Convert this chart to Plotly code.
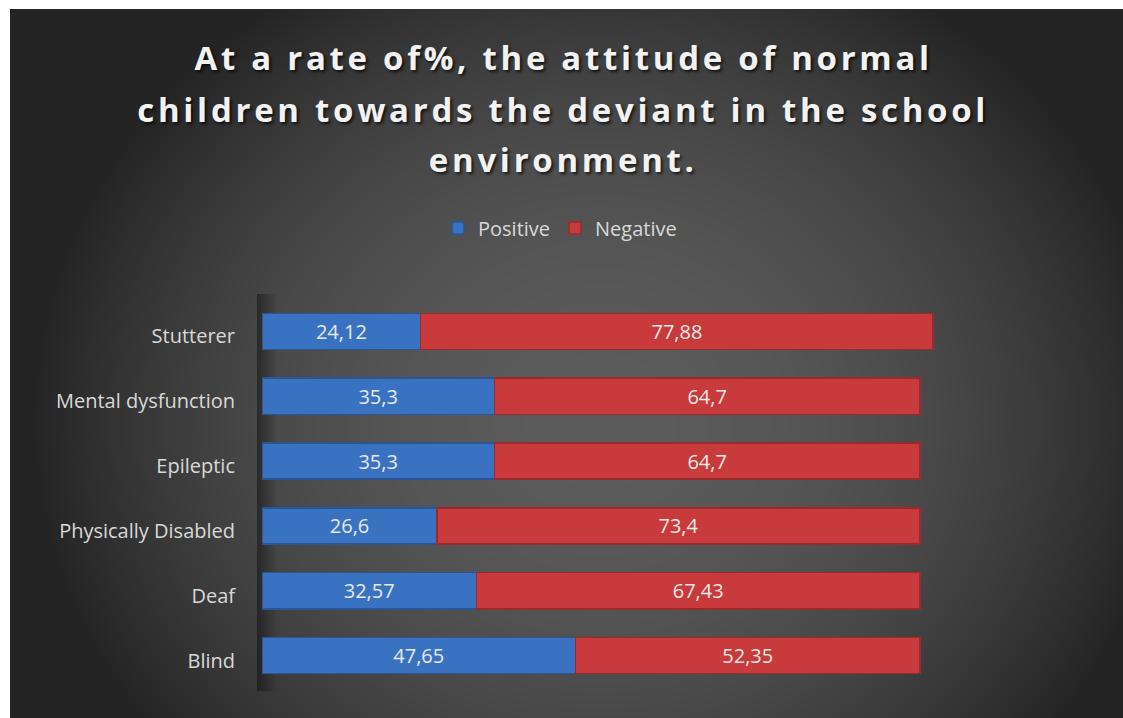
import numpy as np
import zlib, struct, base64
import plotly.graph_objects as go

# ---------------- data ----------------
categories = ["Stutterer", "Mental dysfunction", "Epileptic",
              "Physically Disabled", "Deaf", "Blind"]
positive = [24.12, 35.3, 35.3, 26.6, 32.57, 47.65]
negative = [77.88, 64.7, 64.7, 73.4, 67.43, 52.35]
series_names = ["Positive", "Negative"]
title_lines = ["At a rate of%, the attitude of normal",
               "children towards the deviant in the school",
               "environment."]

W, H = 1123, 718

# ---------------- background (radial gradient panel) ----------------
x0, y0 = 10, 9
bw, bh = W - x0, H - y0
xs = np.arange(bw)[None, :] + x0
ys = np.arange(bh)[:, None] + y0
cx, cy, rx, ry = 600.0, 420.0, 560.0, 500.0
d = np.sqrt(((xs - cx) / rx) ** 2 + ((ys - cy) / ry) ** 2)
val = 92.0 - 54.0 * np.clip(d, 0, 1.25) ** 2
val = np.clip(val, 36, 96)
# subtle 3D wall shadow at the category axis
wall = (xs >= 257) & (xs <= 277) & (ys >= 294) & (ys <= 690)
ramp = np.clip((xs - 257) / 20.0, 0, 1)
shade = np.where(wall, 0.6 + 0.4 * ramp, 1.0)
val = val * shade
img = np.repeat(val[:, :, None], 3, axis=2).astype(np.uint8)


def to_png(arr):
    h, w, _ = arr.shape
    raw = b"".join(b"\x00" + arr[i].tobytes() for i in range(h))

    def chunk(tag, data):
        c = tag + data
        return struct.pack(">I", len(data)) + c + struct.pack(">I", zlib.crc32(c) & 0xffffffff)

    return (b"\x89PNG\r\n\x1a\n"
            + chunk(b"IHDR", struct.pack(">IIBBBBB", w, h, 8, 2, 0, 0, 0))
            + chunk(b"IDAT", zlib.compress(raw, 9))
            + chunk(b"IEND", b""))


bg_uri = "data:image/png;base64," + base64.b64encode(to_png(img)).decode()

# ---------------- figure ----------------
def fmt(v):
    return f"{v:g}".replace(".", ",")

fig = go.Figure()
fig.add_trace(go.Bar(
    y=categories, x=positive, name=series_names[0], orientation="h",
    marker=dict(color="#3a72c2", line=dict(color="#2a5596", width=1.5)),
    text=[fmt(v) for v in positive], textposition="inside",
    insidetextanchor="middle",
    textfont=dict(color="#e8e8e8", size=20, family="Open Sans"),
))
fig.add_trace(go.Bar(
    y=categories, x=negative, name=series_names[1], orientation="h",
    marker=dict(color="#c83a3b", line=dict(color="#9c2a2a", width=1.5)),
    text=[fmt(v) for v in negative], textposition="inside",
    insidetextanchor="middle",
    textfont=dict(color="#e8e8e8", size=20, family="Open Sans"),
))

x_px0 = 262.0
px_per_unit = 6.58
x_max = 120.0
x_px1 = x_px0 + x_max * px_per_unit
top_px, bot_px = 299.0, 688.0

title_y_px = [57, 109, 160]
annotations = [
    dict(text=t, xref="paper", yref="paper", x=563 / W, y=1 - yp / H,
         xanchor="center", yanchor="middle", showarrow=False,
         font=dict(family="Open Sans", size=33, color="#f2f2f2",
                   weight="bold", shadow="2px 2px 3px rgba(0,0,0,0.7)"))
    for t, yp in zip(title_lines, title_y_px)
]

fig.update_layout(
    width=W, height=H,
    margin=dict(l=0, r=0, t=0, b=0),
    paper_bgcolor="white", plot_bgcolor="rgba(0,0,0,0)",
    barmode="stack", bargap=0.44,
    font=dict(family="Open Sans", color="#d9d9d9", size=20),
    annotations=annotations,
    showlegend=True,
    legend=dict(orientation="h", x=560 / W, xanchor="center",
                y=1 - 228 / H, yanchor="middle",
                font=dict(size=20, color="#d9d9d9"),
                bgcolor="rgba(0,0,0,0)", itemwidth=30, traceorder="normal"),
    xaxis=dict(domain=[x_px0 / W, x_px1 / W], range=[0, x_max],
               showgrid=False, zeroline=False, showticklabels=False,
               showline=False, fixedrange=True),
    yaxis=dict(domain=[1 - bot_px / H, 1 - top_px / H],
               autorange="reversed", showgrid=False, zeroline=False,
               showline=False, ticks="", ticklabelstandoff=26,
               ticklabelshift=-5,
               tickfont=dict(size=20, color="#d9d9d9", family="Open Sans")),
    images=[dict(source=bg_uri, xref="paper", yref="paper",
                 x=x0 / W, y=1 - y0 / H, sizex=bw / W, sizey=bh / H,
                 xanchor="left", yanchor="top", sizing="stretch",
                 layer="below")],
)

post = """
document.body.style.margin='0';
document.body.style.overflow='hidden';
document.querySelectorAll('.annotation-text').forEach(function(e){
  e.setAttribute('letter-spacing','3.7px');
});
"""
fig.write_html("out.html", post_script=post,
               config={"displayModeBar": False})
